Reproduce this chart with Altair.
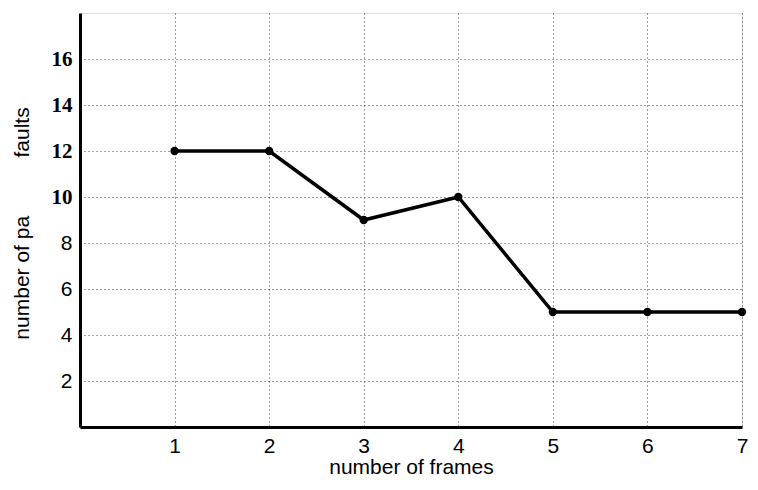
import altair as alt
import pandas as pd

frames = [1, 2, 3, 4, 5, 6, 7]
faults = [12, 12, 9, 10, 5, 5, 5]
x_ticks = [1, 2, 3, 4, 5, 6, 7]
y_ticks = [2, 4, 6, 8, 10, 12, 14, 16]

df = pd.DataFrame({"frames": frames, "faults": faults})

FONT = "Liberation Sans"
NB = "\u00a0"

x_enc = alt.X(
    "frames:Q",
    scale=alt.Scale(domain=[0, 7], nice=False, zero=False),
    axis=alt.Axis(
        values=x_ticks,
        format="d",
        title="number of frames",
        titleFont=FONT,
        titleFontSize=21,
        titleFontWeight="normal",
        titleColor="black",
        titleY=40,
        titleBaseline="middle",
        labelFont=FONT,
        labelFontSize=21,
        labelColor="black",
        labelPadding=8,
        labelFlush=False,
        tickSize=0,
        domainColor="black",
        domainWidth=3,
        grid=True,
        gridColor="black",
        gridDash=[1, 3],
        gridOpacity=0.75,
        gridWidth=1,
    ),
)

y_enc = alt.Y(
    "faults:Q",
    scale=alt.Scale(domain=[0, 18], nice=False, zero=True),
    axis=alt.Axis(
        values=y_ticks,
        format="d",
        title="number of pa" + NB * 10 + "faults",
        titleFont=FONT,
        titleFontSize=21,
        titleFontWeight="normal",
        titleColor="black",
        titleX=-58,
        titleY=210,
        titleAngle=-90,
        titleAlign="center",
        titleBaseline="middle",
        labelFont={"condition": {"test": "datum.value >= 10", "value": "Liberation Serif"}, "value": FONT},
        labelFontWeight={"condition": {"test": "datum.value >= 10", "value": "bold"}, "value": "normal"},
        labelFontSize=21,
        labelColor="black",
        labelPadding=8,
        labelFlush=False,
        tickSize=0,
        domainColor="black",
        domainWidth=3,
        grid=True,
        gridColor="black",
        gridDash=[1, 3],
        gridOpacity=0.75,
        gridWidth=1,
    ),
)

base = alt.Chart(df)
line = base.mark_line(color="black", strokeWidth=3.5).encode(x=x_enc, y=y_enc)
pts = base.mark_circle(color="black", size=70, opacity=1).encode(x="frames:Q", y="faults:Q")

chart = (
    alt.layer(line, pts)
    .properties(
        width=662,
        height=414,
        autosize=alt.AutoSizeParams(type="none"),
        padding={"left": 72, "top": 5, "right": 8, "bottom": 55},
    )
    .configure_view(stroke="black", strokeWidth=2)
    .configure(background="white")
)

chart.save("out.html", embed_options={"renderer": "svg", "actions": False})
